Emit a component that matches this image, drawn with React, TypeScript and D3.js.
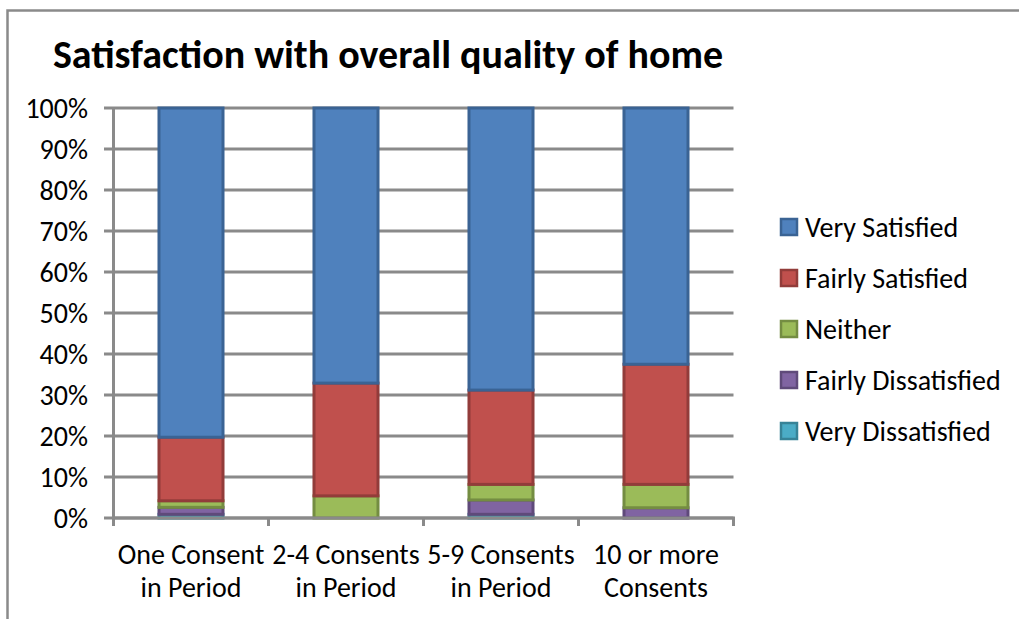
import React from "react";
import * as d3 from "d3";

// Categories and series (percent of respondents per category)
const categories = ["One Consent in Period", "2-4 Consents in Period", "5-9 Consents in Period", "10 or more Consents"];
const categoryLines = [
  ["One Consent", "in Period"],
  ["2-4 Consents", "in Period"],
  ["5-9 Consents", "in Period"],
  ["10 or more", "Consents"],
];
const veryDissatisfied = [0.9, 0, 0.9, 0];
const fairlyDissatisfied = [1.7, 0, 3.5, 2.5];
const neither = [1.6, 5.4, 3.8, 5.7];
const fairlySatisfied = [15.5, 27.5, 23.0, 29.3];
const verySatisfied = [80.3, 67.1, 68.8, 62.5];

const seriesNames = ["Very Dissatisfied", "Fairly Dissatisfied", "Neither", "Fairly Satisfied", "Very Satisfied"];
const seriesValues = [veryDissatisfied, fairlyDissatisfied, neither, fairlySatisfied, verySatisfied];
const legendOrder = ["Very Satisfied", "Fairly Satisfied", "Neither", "Fairly Dissatisfied", "Very Dissatisfied"];
const yTicks = [0, 10, 20, 30, 40, 50, 60, 70, 80, 90, 100];

const fills: Record<string, string> = {
  "Very Satisfied": "#4F81BD",
  "Fairly Satisfied": "#C0504D",
  "Neither": "#9BBB59",
  "Fairly Dissatisfied": "#8064A2",
  "Very Dissatisfied": "#4BACC6",
};
const strokes: Record<string, string> = {
  "Very Satisfied": "#3A6394",
  "Fairly Satisfied": "#923C3A",
  "Neither": "#748D42",
  "Fairly Dissatisfied": "#5F4A7A",
  "Very Dissatisfied": "#378397",
};

const W = 1019;
const H = 619;
const plot = { left: 113.5, right: 733.5, top: 108, bottom: 518 };
const FONT = "Carlito, Lato, sans-serif";
const GRID = "#8A8A8A";
const LABEL_SIZE = 28;

export default function App() {
  const rows = categories.map((c, i) => {
    const r: Record<string, any> = { category: c };
    seriesNames.forEach((s, j) => (r[s] = seriesValues[j][i]));
    return r;
  });
  const stacked = d3.stack<any>().keys(seriesNames)(rows);

  const x = d3
    .scaleBand<string>()
    .domain(categories)
    .range([plot.left, plot.right])
    .paddingInner(0.587)
    .paddingOuter(0.2935);
  const y = d3.scaleLinear().domain([0, 100]).range([plot.bottom, plot.top]);
  const fmt = (v: number) => `${v}%`;
  const step = x.step();
  const tickXs = d3.range(categories.length + 1).map((i) => plot.left + i * step);

  return (
    <div style={{ position: "absolute", left: 0, top: 0 }}>
      <svg width={W} height={H} style={{ display: "block", background: "#fff" }}>
        {/* chart frame */}
        <path d={`M7.5,${H} V10.5 H${W}`} fill="none" stroke={GRID} strokeWidth={2.5} />

        <text x={388} y={68} textAnchor="middle" fontFamily={FONT} fontWeight="bold" fontSize={40} fill="#000">
          Satisfaction with overall quality of home
        </text>

        {/* gridlines with left tick marks */}
        {yTicks.map((t) => (
          <line key={t} x1={104} x2={plot.right} y1={y(t)} y2={y(t)} stroke={GRID} strokeWidth={3} />
        ))}
        {yTicks.map((t) => (
          <text key={"l" + t} x={88} y={y(t)} dy="0.36em" textAnchor="end" fontFamily={FONT} fontSize={LABEL_SIZE} fill="#000">
            {fmt(t)}
          </text>
        ))}

        {/* stacked bars */}
        {stacked.map((layer) =>
          layer.map((d, i) => {
            const h = y(d[0]) - y(d[1]);
            if (h <= 0) return null;
            return (
              <rect
                key={layer.key + i}
                x={x(categories[i])!}
                y={y(d[1])}
                width={x.bandwidth()}
                height={h}
                fill={fills[layer.key]}
                stroke={strokes[layer.key]}
                strokeWidth={3}
              />
            );
          })
        )}

        {/* axes */}
        <line x1={plot.left} x2={plot.left} y1={plot.top} y2={plot.bottom + 8} stroke={GRID} strokeWidth={3} />
        <line x1={plot.left} x2={plot.right + 1.5} y1={plot.bottom} y2={plot.bottom} stroke={GRID} strokeWidth={3} />
        {tickXs.map((tx, i) => (
          <line key={"t" + i} x1={tx} x2={tx} y1={plot.bottom} y2={plot.bottom + 8} stroke={GRID} strokeWidth={3} />
        ))}

        {/* category labels */}
        {categories.map((c, i) => {
          const cx = x(c)! + x.bandwidth() / 2;
          return (
            <text key={c} textAnchor="middle" fontFamily={FONT} fontSize={LABEL_SIZE} fill="#000">
              <tspan x={cx} y={564}>{categoryLines[i][0]}</tspan>
              <tspan x={cx} y={597}>{categoryLines[i][1]}</tspan>
            </text>
          );
        })}

        {/* legend */}
        {legendOrder.map((s, i) => {
          const cy = 227 + i * 51;
          return (
            <g key={s}>
              <rect x={781} y={cy - 8} width={16} height={16} fill={fills[s]} stroke={strokes[s]} strokeWidth={2.5} />
              <text x={805} y={cy} dy="0.36em" fontFamily={FONT} fontSize={LABEL_SIZE} fill="#000">
                {s}
              </text>
            </g>
          );
        })}
      </svg>
    </div>
  );
}
